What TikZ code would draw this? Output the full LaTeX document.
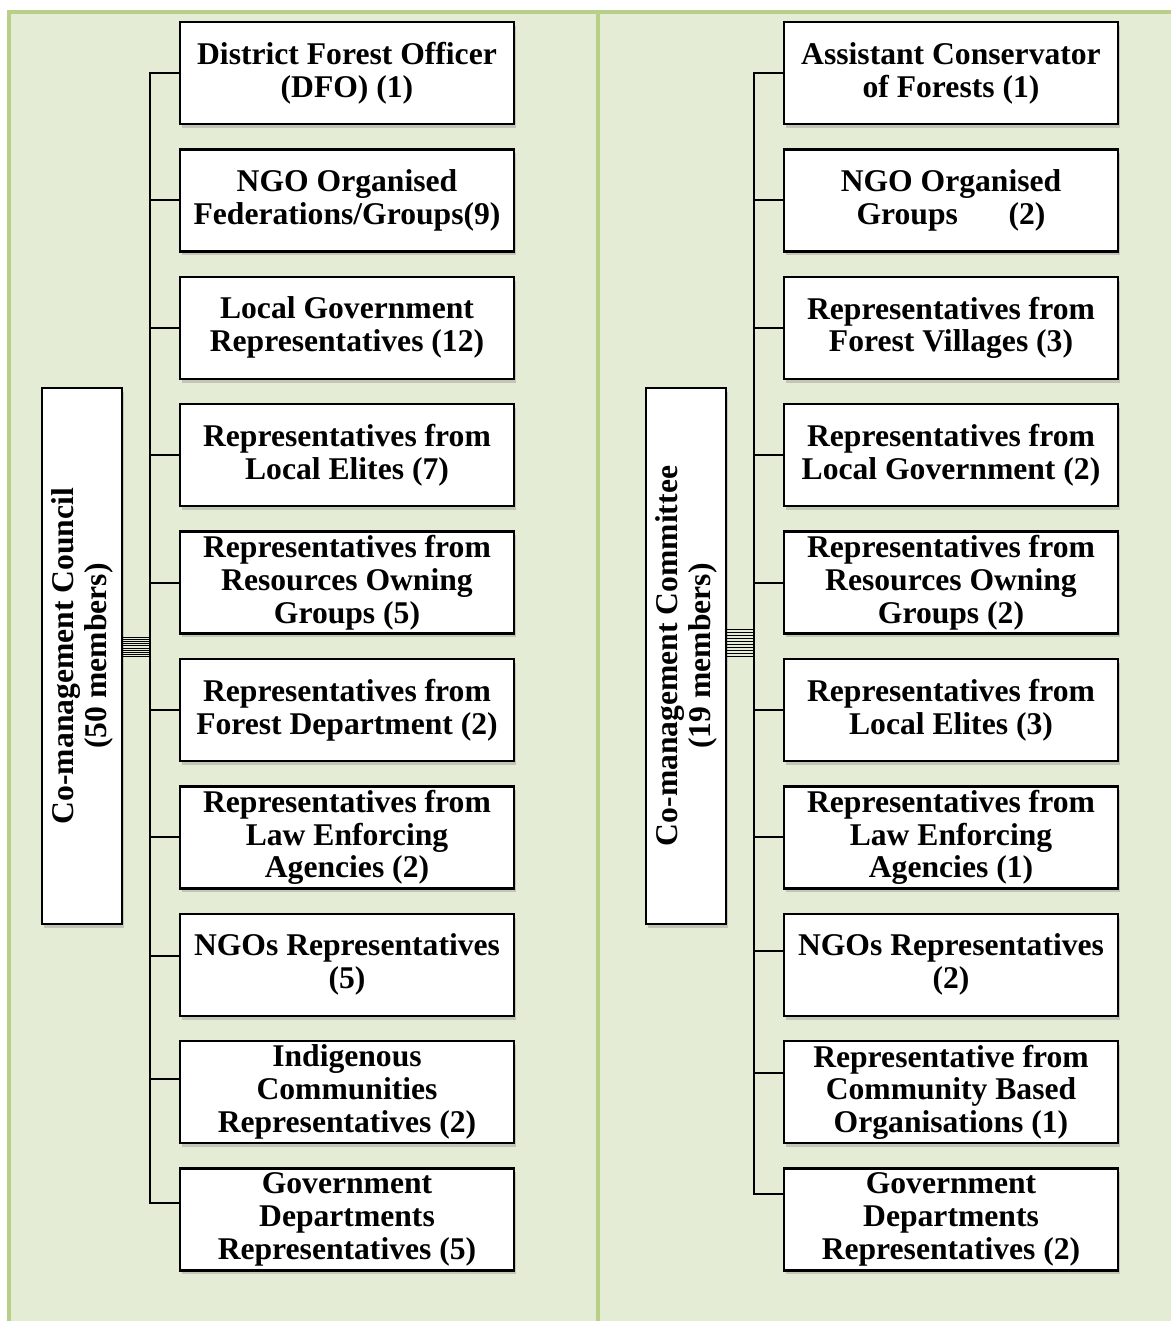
\documentclass[tikz,border=0pt]{standalone}
\usepackage{fontspec}
\setmainfont{Liberation Serif}
\usetikzlibrary{shadows}
\definecolor{panelgreen}{RGB}{228,236,214}
\definecolor{framegreen}{RGB}{184,207,135}
\begin{document}
\begin{tikzpicture}[x=0.02cm,y=-0.02cm]
\tikzstyle{member}=[draw=black,line width=1.4pt,fill=white,minimum width=6.68cm,minimum height=2.04cm,inner sep=1pt,align=center,font=\fontsize{18}{18.7}\selectfont\bfseries,drop shadow={shadow xshift=1.2pt,shadow yshift=-2.2pt,opacity=0.35}]
\tikzstyle{board}=[draw=black,line width=1.4pt,fill=white,minimum width=10.72cm,minimum height=1.6cm,inner sep=1pt,align=center,rotate=90,font=\fontsize{18}{18.7}\selectfont\bfseries,drop shadow={shadow xshift=1.2pt,shadow yshift=-2.2pt,opacity=0.35}]
\tikzstyle{conn}=[black,line width=1.1pt]
\tikzstyle{hub}=[black,line width=0.55pt]
\useasboundingbox (0,0) rectangle (1170,1321);
\fill [panelgreen] (9,12) rectangle (1175,1326);
\draw [framegreen,line width=2.2pt] (9,12) rectangle (1175,1326);
\draw [framegreen,line width=2.2pt] (598,12) -- (598,1326);
\node [board] (lhead) at (82,656) {Co-management Council\\(50 members)};
\node [member] (l1) at (347,73) {District Forest Officer\\(DFO) (1)};
\node [member] (l2) at (347,200.4) {NGO Organised\\Federations/Groups(9)};
\node [member] (l3) at (347,327.8) {Local Government\\Representatives (12)};
\node [member] (l4) at (347,455.2) {Representatives from\\Local Elites (7)};
\node [member] (l5) at (347,582.6) {Representatives from\\Resources Owning\\Groups (5)};
\node [member] (l6) at (347,710) {Representatives from\\Forest Department (2)};
\node [member] (l7) at (347,837.4) {Representatives from\\Law Enforcing\\Agencies (2)};
\node [member] (l8) at (347,964.8) {NGOs Representatives\\(5)};
\node [member] (l9) at (347,1092.2) {Indigenous\\Communities\\Representatives (2)};
\node [member] (l10) at (347,1219.6) {Government\\Departments\\Representatives (5)};
\node [board] (rhead) at (686,656) {Co-management Committee\\(19 members)};
\node [member] (r1) at (951,73) {Assistant Conservator\\of Forests (1)};
\node [member] (r2) at (951,200.4) {NGO Organised\\Groups\hspace{1.6em}(2)};
\node [member] (r3) at (951,327.8) {Representatives from\\Forest Villages (3)};
\node [member] (r4) at (951,455.2) {Representatives from\\Local Government (2)};
\node [member] (r5) at (951,582.6) {Representatives from\\Resources Owning\\Groups (2)};
\node [member] (r6) at (951,710) {Representatives from\\Local Elites (3)};
\node [member] (r7) at (951,837.4) {Representatives from\\Law Enforcing\\Agencies (1)};
\node [member] (r8) at (951,964.8) {NGOs Representatives\\(2)};
\node [member] (r9) at (951,1092.2) {Representative from\\Community Based\\Organisations (1)};
\node [member] (r10) at (951,1219.6) {Government\\Departments\\Representatives (2)};
\coordinate (lb8) at (150,956);
\coordinate (lb9) at (150,1079);
\coordinate (lb10) at (150,1203);
\coordinate (rb8) at (754,951);
\coordinate (rb9) at (754,1073);
\coordinate (rb10) at (754,1194);
\draw [conn] (l1.west) -| (lb10) -- (lb10 -| l10.west);
\foreach \n in {2,...,7}
  \draw [conn] (lb10 |- l\n.west) -- (l\n.west);
\draw [conn] (lb8) -- (lb8 -| l8.west);
\draw [conn] (lb9) -- (lb9 -| l9.west);
\draw [conn] (r1.west) -| (rb10) -- (rb10 -| r10.west);
\foreach \n in {2,...,7}
  \draw [conn] (rb10 |- r\n.west) -- (r\n.west);
\draw [conn] (rb8) -- (rb8 -| r8.west);
\draw [conn] (rb9) -- (rb9 -| r9.west);
\foreach \i in {0,...,9} {
  \pgfmathsetmacro\ly{637+2.2*\i}
  \pgfmathsetmacro\ry{629+3.1*\i}
  \draw [hub] (lhead.south |- 0,\ly) -- (lb10 |- 0,\ly);
  \draw [hub] (rhead.south |- 0,\ry) -- (rb10 |- 0,\ry);
}
\end{tikzpicture}
\end{document}
